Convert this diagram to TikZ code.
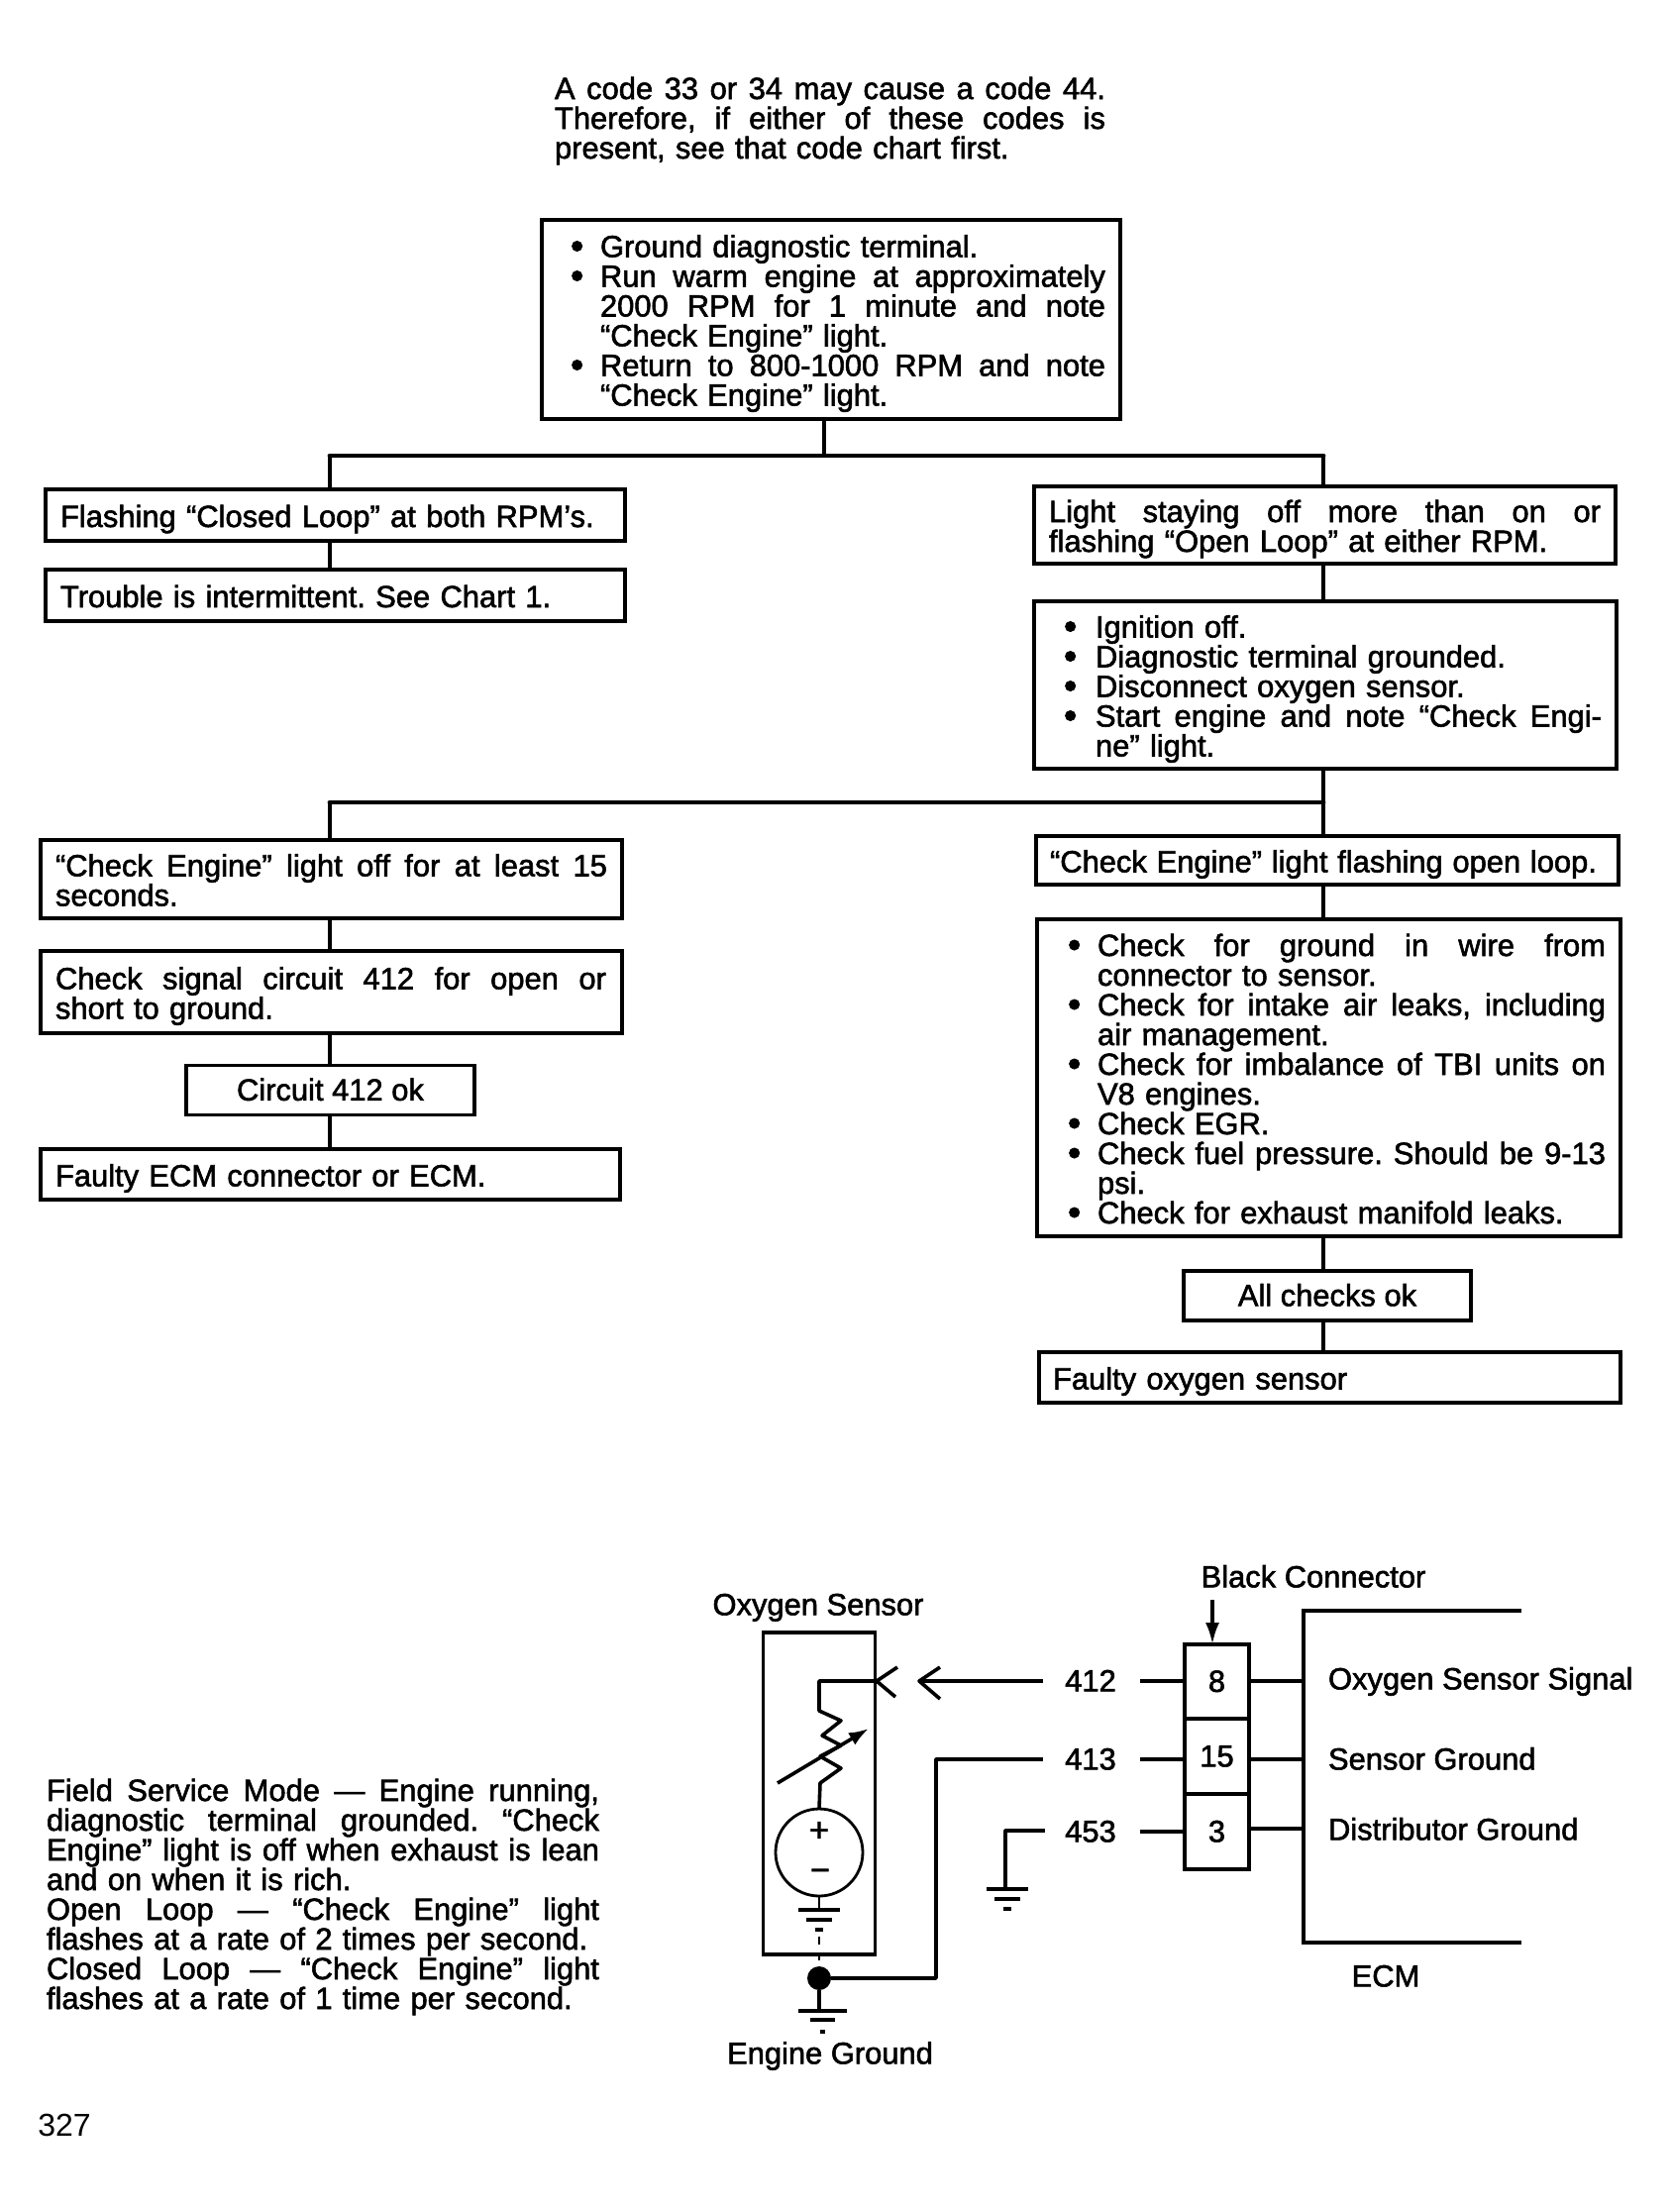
\documentclass[tikz,border=0pt]{standalone}
\usepackage{fontspec}
\usetikzlibrary{arrows.meta}
\setmainfont[RawFeature={embolden=1.8}]{Liberation Sans}
\newfontfamily\plainfont{Liberation Sans}
\hbadness=10000 \hfuzz=200pt \vbadness=10000
\frenchspacing
\def\mystrut{\vrule width 0pt height 13.5pt depth 1.5pt\relax}
\newcommand{\Lb}[1]{\hbox{\vrule width 0pt height 12pt depth 1.6pt\relax\smash{\hbox{#1}}}}
\def\jsp{\spaceskip=0.278em plus 1em minus 0.08em\relax}
\newcommand{\JLn}[2]{\hbox{\mystrut\smash{\hbox to #1pt{\jsp #2}}}}
\newcommand{\NLn}[1]{\hbox{\mystrut\smash{\hbox{#1}}}}
\newlength{\bulind}
\def\bulmark{\hbox to \bulind{\raisebox{-0.8pt}{\fontsize{19}{15}\selectfont\textbullet}\hss}}
\newcommand{\BJLn}[2]{\hbox{\mystrut\smash{\hbox{\bulmark\hbox to #1pt{\jsp #2}}}}}
\newcommand{\BNLn}[1]{\hbox{\mystrut\smash{\hbox{\bulmark #1}}}}
\newcommand{\IJLn}[2]{\hbox{\mystrut\smash{\hbox{\hskip\bulind\hbox to #1pt{\jsp #2}}}}}
\newcommand{\INLn}[1]{\hbox{\mystrut\smash{\hbox{\hskip\bulind #1}}}}
\newcommand{\tbox}[7]{%
  \pgfmathsetmacro\bw{(#4-#2)*0.5}\pgfmathsetmacro\bh{(#5-#3)*0.5}%
  \pgfmathsetmacro\ins{#6*0.5}\pgfmathsetmacro\tw{\bw-2*\ins}%
  \node[boxst,minimum width=\bw pt,minimum height=\bh pt,inner xsep=\ins pt,text width=\tw pt] (#1) at ({(#2+#4)/2},{(#3+#5)/2}) {\vbox{\offinterlineskip #7}};}
\tikzset{
  txt/.style={font=\fontsize{15.45}{15}\selectfont},
  boxst/.style={draw,line width=1.6pt,inner ysep=0pt,outer sep=0pt,txt},
  cbox/.style={draw,line width=1.6pt,inner sep=0pt,outer sep=0pt,txt,align=center},
  lab/.style={inner sep=0pt,outer sep=0pt,txt},
  para/.style={inner sep=0pt,outer sep=0pt,txt},
  stem/.style={line width=1.6pt},
  bus/.style={line width=2.4pt,line cap=round},
  wire/.style={line width=1.4pt,line join=round},
  hwire/.style={line width=1.8pt,line join=round},
  gbar/.style={line width=1.8pt},
  gnd/.pic={\draw[gbar] (-21,0) -- (21,0); \draw[gbar] (-13,10) -- (13,10); \draw[gbar] (-4,20) -- (4,20);}
}
\begin{document}
\begin{tikzpicture}[x=0.5pt,y=-0.5pt]
\useasboundingbox (0,0) rectangle (1687,2233);
\fill[white] (0,0) rectangle (1687,2233);
\coordinate (colL) at (333,0);
\coordinate (colR) at (1336,0);
\coordinate (busA) at (832,460);
\coordinate (busAL) at (333,460);
\coordinate (busAR) at (1336,460);
\coordinate (busBL) at (333,810);
\coordinate (busBR) at (1336,810);

% top note
\node[para,text width=278pt] (note) at (838,118) {\vbox{\offinterlineskip
  \JLn{278}{A code 33 or 34 may cause a code 44.}
  \JLn{278}{Therefore, if either of these codes is}
  \NLn{present, see that code chart first.}}};

\setlength{\bulind}{15pt}
\tbox{b1}{547}{222}{1131}{423}{29}{
  \BNLn{Ground diagnostic terminal.}
  \BJLn{255}{Run warm engine at approximately}
  \IJLn{255}{2000 RPM for 1 minute and note}
  \INLn{“Check Engine” light.}
  \BJLn{255}{Return to 800-1000 RPM and note}
  \INLn{“Check Engine” light.}}

\tbox{lb1}{46}{494}{631}{546}{15}{\NLn{Flashing “Closed Loop” at both RPM’s.}}
\tbox{lb2}{46}{575}{631}{627}{15}{\NLn{Trouble is intermittent. See Chart 1.}}
\tbox{rb1}{1044}{491}{1631}{569}{15}{
  \JLn{278.5}{Light staying off more than on or}
  \NLn{flashing “Open Loop” at either RPM.}}
\setlength{\bulind}{16pt}
\tbox{rb2}{1044}{607}{1632}{776}{30}{
  \BNLn{Ignition off.}
  \BNLn{Diagnostic terminal grounded.}
  \BNLn{Disconnect oxygen sensor.}
  \BJLn{255.5}{Start engine and note “Check Engi-}
  \INLn{ne” light.}}

\tbox{lb3}{41}{848}{628}{927}{15}{
  \JLn{278.5}{“Check Engine” light off for at least 15}
  \NLn{seconds.}}
\tbox{lb4}{41}{960}{628}{1043}{15}{
  \JLn{278}{Check signal circuit 412 for open or}
  \NLn{short to ground.}}
\node[cbox,minimum width=145.5pt,minimum height=25pt] (circ) at (333.5,1100.5) {\Lb{Circuit 412 ok}};
\tbox{lb5}{41}{1160}{626}{1211}{15}{\NLn{Faulty ECM connector or ECM.}}

\tbox{rce}{1046}{844}{1634}{893}{14}{\JLn{276}{“Check Engine” light flashing open loop.}}
\setlength{\bulind}{15pt}
\tbox{rbig}{1047}{928}{1636}{1248}{31}{
  \BJLn{256.5}{Check for ground in wire from}
  \INLn{connector to sensor.}
  \BJLn{256.5}{Check for intake air leaks, including}
  \INLn{air management.}
  \BJLn{256.5}{Check for imbalance of TBI units on}
  \INLn{V8 engines.}
  \BNLn{Check EGR.}
  \BJLn{256.5}{Check fuel pressure. Should be 9-13}
  \INLn{psi.}
  \BNLn{Check for exhaust manifold leaks.}}
\node[cbox,minimum width=145pt,minimum height=25pt] (allchk) at (1340,1308) {\Lb{All checks ok}};
\tbox{rfy}{1049}{1365}{1636}{1416}{14}{\NLn{Faulty oxygen sensor}}

% flow connectors
\draw[stem] (busA|-b1.south) -- (busA);
\draw[bus] (busAL) -- (busAR);
\draw[stem] (busAL) -- (colL|-lb1.north);
\draw[stem] (busAR) -- (colR|-rb1.north);
\draw[stem] (colL|-lb1.south) -- (colL|-lb2.north);
\draw[stem] (colR|-rb1.south) -- (colR|-rb2.north);
\draw[stem] (colR|-rb2.south) -- (colR|-rce.north);
\draw[stem] (colL|-lb3.north) -- (busBL);
\draw[bus] (busBL) -- (busBR);
\draw[stem] (colL|-lb3.south) -- (colL|-lb4.north);
\draw[stem] (colL|-lb4.south) -- (colL|-circ.north);
\draw[stem] (colL|-circ.south) -- (colL|-lb5.north);
\draw[stem] (colR|-rce.south) -- (colR|-rbig.north);
\draw[stem] (colR|-rbig.south) -- (colR|-allchk.north);
\draw[stem] (colR|-allchk.south) -- (colR|-rfy.north);

% field service text
\node[para,text width=279pt] (field) at (326,1911) {\vbox{\offinterlineskip
  \JLn{279}{Field Service Mode — Engine running,}
  \JLn{279}{diagnostic terminal grounded. “Check}
  \JLn{279}{Engine” light is off when exhaust is lean}
  \NLn{and on when it is rich.}
  \JLn{279}{Open Loop — “Check Engine” light}
  \NLn{flashes at a rate of 2 times per second.}
  \JLn{279}{Closed Loop — “Check Engine” light}
  \NLn{flashes at a rate of 1 time per second.}}};
\node[inner sep=0pt,font=\plainfont\fontsize{16}{16}\selectfont] (pg) at (65,2145) {327};

% sensor
\node[draw,line width=1.6pt,inner sep=0pt,outer sep=0pt,minimum width=56.5pt,minimum height=162.5pt] (sensor) at (827,1810.5) {};
\node[lab] at (826,1620) (lsens) {\Lb{Oxygen Sensor}};
\node[lab] at (838,2073) (lgnd) {\Lb{Engine Ground}};
\node[draw,circle,line width=1.4pt,inner sep=0pt,outer sep=0pt,minimum size=44pt] (src) at (827,1870) {};
\node[lab,font=\fontsize{17}{17}\selectfont] (plus) at (827,1849) {+};
\node[lab,font=\fontsize{17}{17}\selectfont] (minus) at (828,1893) {−};
\coordinate (jack) at (885,1697);
\draw[hwire] (jack) -- (827,1697) -- (827,1727) -- (849,1737) -- (830,1752) -- (849,1762) -- (828,1773) -- (849,1785) -- (828,1800) -- (src.north);
\draw[hwire] (906,1683) -- (jack) -- (904,1713);
\draw[hwire,-{Latex[length=10pt,width=7pt]}] (785,1800) -- (877,1745);
\draw[wire] (src.south) -- (827,1928);
\pic at (827,1928) {gnd};
\draw[wire,dash pattern=on 4pt off 4pt] (827,1955) -- (827,1986);
\node[fill,circle,inner sep=0pt,outer sep=0pt,minimum size=12pt] (dot) at (827,1997) {};
\draw[hwire] (dot) -- (827,2030);
\draw[gbar] (806,2030) -- (855,2030);
\draw[gbar] (818,2039) -- (843,2039);
\draw[gbar] (828,2051) -- (833,2051);

% wire labels
\node[lab] (l412) at (1101,1697) {\Lb{412}};
\node[lab] (l413) at (1101,1776) {\Lb{413}};
\node[lab] (l453) at (1101,1849) {\Lb{453}};

% connector
\tikzset{cell/.style={draw,line width=1.6pt,inner sep=0pt,outer sep=0pt,minimum width=32.5pt,txt}}
\node[cell,minimum height=37.5pt] (c8) at (1228.5,1697.5) {\Lb{8}};
\node[cell,minimum height=38pt] (c15) at (1228.5,1773) {\Lb{15}};
\node[cell,minimum height=38pt] (c3) at (1228.5,1849) {\Lb{3}};
\node[lab] (lblk) at (1326,1592) {\Lb{Black Connector}};
\coordinate (blkTop) at (1224,1615);
\draw[hwire,-{Latex[length=11pt,width=7pt]}] (blkTop) -- (blkTop|-c8.north);

% wires to connector
\coordinate (tipA) at (928,1697);
\draw[hwire] (1053,1697) -- (tipA);
\draw[hwire] (949,1683) -- (tipA) -- (949,1715);
\draw[hwire,shorten <=12pt] (l412.east) -- (l412.east-|c8.west);
\draw[hwire,shorten <=12pt] (l413.east) -- (l413.east-|c15.west);
\draw[hwire,shorten <=12pt] (l453.east) -- (l453.east-|c3.west);
\coordinate (w413v) at (945,1776);
\draw[hwire] (dot) -- (dot-|w413v) -- (w413v) -- (1053,1776);
\draw[hwire] (1055,1848) -- (1015,1848) -- (1015,1907);
\pic at (1017,1907) {gnd};

% ECM
\coordinate (ecmT) at (1536,1626);
\coordinate (ecmB) at (1536,1961);
\coordinate (ecmC) at (1316,0);
\coordinate (w8) at (1261,1697);
\coordinate (w15) at (1261,1776);
\coordinate (w3) at (1261,1846);
\draw[stem] (ecmT) -- (ecmC|-ecmT) -- (ecmC|-ecmB) -- (ecmB);
\draw[hwire] (w8) -- (w8-|ecmC);
\draw[hwire] (w15) -- (w15-|ecmC);
\draw[hwire] (w3) -- (w3-|ecmC);
\node[lab,anchor=west] (lsig) at (1341,1695) {\Lb{Oxygen Sensor Signal}};
\node[lab,anchor=west] (lsg) at (1341,1776) {\Lb{Sensor Ground}};
\node[lab,anchor=west] (ldg) at (1341,1847) {\Lb{Distributor Ground}};
\node[lab] (lecm) at (1399,1995) {\Lb{ECM}};
\end{tikzpicture}
\end{document}
